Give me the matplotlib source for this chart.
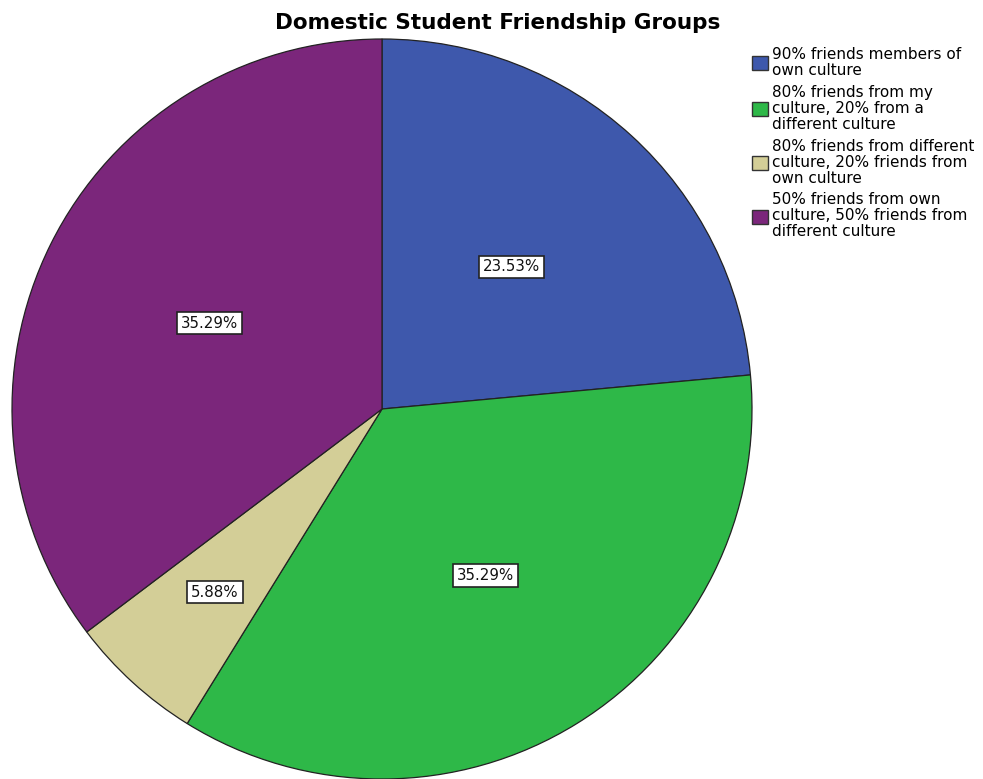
import matplotlib
matplotlib.use("Agg")
import matplotlib.pyplot as plt
import numpy as np
from matplotlib.patches import Patch

plt.rcParams['font.family'] = ['DejaVu Sans']

title = "Domestic Student Friendship Groups"
categories = [
    "90% friends members of\nown culture",
    "80% friends from my\nculture, 20% from a\ndifferent culture",
    "80% friends from different\nculture, 20% friends from\nown culture",
    "50% friends from own\nculture, 50% friends from\ndifferent culture",
]
values = [23.53, 35.29, 5.88, 35.29]
colors = ["#3e58ac", "#2eb848", "#d3ce97", "#7b267b"]
label_dist = [0.52, 0.53, 0.67, 0.52]

W, H = 983, 779
fig = plt.figure(figsize=(W / 100, H / 100), dpi=100)
cx, cy, R = 382, 409, 370
ax = fig.add_axes([(cx - R) / W, (H - cy - R) / H, 2 * R / W, 2 * R / H])

wedges, _ = ax.pie(values, colors=colors, startangle=90, counterclock=False,
                   radius=1, wedgeprops=dict(edgecolor="#222222", linewidth=0.9))
for w, v, d in zip(wedges, values, label_dist):
    ang = np.deg2rad((w.theta1 + w.theta2) / 2)
    ax.text(d * np.cos(ang), d * np.sin(ang), f"{v:.2f}%", ha="center", va="center",
            fontsize=10.8, color="#111111",
            bbox=dict(boxstyle="square,pad=0.25", facecolor="white", edgecolor="#222222", linewidth=1.2))
ax.set_xlim(-1, 1)
ax.set_ylim(-1, 1)
ax.set_aspect("equal")
ax.axis("off")

fig.text(497.5 / W, 1 - 23 / H, title, ha="center", va="center", fontsize=15.5, fontweight="bold")

handles = [Patch(facecolor=c, edgecolor="#333333", linewidth=1.0) for c in colors]
leg = fig.legend(handles, categories, loc="upper left", bbox_to_anchor=(752 / W, 1 - 47 / H),
                 frameon=False, fontsize=11, handlelength=1.05, handleheight=1.05,
                 handletextpad=0.25, labelspacing=0.45, borderpad=0, borderaxespad=0)
for t in leg.get_texts():
    t.set_linespacing(1.08)

fig.savefig("out.png", dpi=100)
